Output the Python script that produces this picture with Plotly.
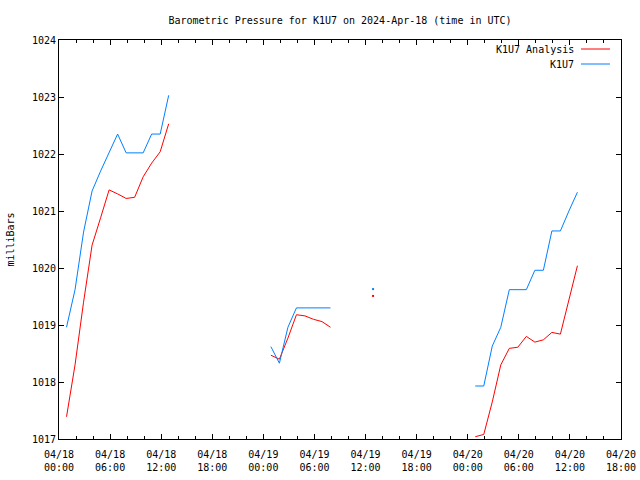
import plotly.graph_objects as go

# ---------------- data ----------------
seg1_times = ["2024-04-18 00:53", "2024-04-18 01:53", "2024-04-18 02:53", "2024-04-18 03:53",
              "2024-04-18 04:53", "2024-04-18 05:53", "2024-04-18 06:53", "2024-04-18 07:53",
              "2024-04-18 08:53", "2024-04-18 09:53", "2024-04-18 10:53", "2024-04-18 11:53",
              "2024-04-18 12:53"]
seg1_obs = [1018.96, 1019.62, 1020.63, 1021.35, 1021.70, 1022.02, 1022.35, 1022.02,
            1022.02, 1022.02, 1022.35, 1022.35, 1023.03]
seg1_ana = [1017.39, 1018.30, 1019.40, 1020.40, 1020.88, 1021.37, 1021.30, 1021.22,
            1021.24, 1021.60, 1021.84, 1022.04, 1022.53]

seg2_times = ["2024-04-19 00:53", "2024-04-19 01:53", "2024-04-19 02:53", "2024-04-19 03:53",
              "2024-04-19 04:53", "2024-04-19 05:53", "2024-04-19 06:53", "2024-04-19 07:53"]
seg2_obs = [1018.62, 1018.33, 1018.96, 1019.30, 1019.30, 1019.30, 1019.30, 1019.30]
seg2_ana = [1018.47, 1018.40, 1018.77, 1019.18, 1019.16, 1019.10, 1019.06, 1018.96]

single_time = ["2024-04-19 12:53"]
single_obs = [1019.63]
single_ana = [1019.51]

seg3_times = ["2024-04-20 00:53", "2024-04-20 01:53", "2024-04-20 02:53", "2024-04-20 03:53",
              "2024-04-20 04:53", "2024-04-20 05:53", "2024-04-20 06:53", "2024-04-20 07:53",
              "2024-04-20 08:53", "2024-04-20 09:53", "2024-04-20 10:53", "2024-04-20 11:53",
              "2024-04-20 12:53"]
seg3_obs = [1017.93, 1017.93, 1018.63, 1018.96, 1019.62, 1019.62, 1019.62, 1019.96,
            1019.96, 1020.65, 1020.65, 1021.00, 1021.33]
seg3_ana = [1017.04, 1017.08, 1017.65, 1018.30, 1018.59, 1018.61, 1018.80, 1018.70,
            1018.74, 1018.87, 1018.84, 1019.45, 1020.04]

series_names = ["K1U7 Analysis", "K1U7"]
RED = "#ff0000"
BLUE = "#0080ff"
FONT = "DejaVu Sans Mono"

x_range = ["2024-04-18 00:00", "2024-04-20 18:00"]
y_range = [1017, 1024]

# ---------------- build ----------------
def joined(*parts):
    out = []
    for i, p in enumerate(parts):
        if i:
            out.append(None)
        out.extend(p)
    return out

x_all = joined(seg1_times, seg2_times, seg3_times)
ana_all = joined(seg1_ana, seg2_ana, seg3_ana)
obs_all = joined(seg1_obs, seg2_obs, seg3_obs)

fig = go.Figure()
fig.add_trace(go.Scatter(x=x_all, y=ana_all, mode="lines", name=series_names[0],
                         line=dict(color=RED, width=1), connectgaps=False))
fig.add_trace(go.Scatter(x=x_all, y=obs_all, mode="lines", name=series_names[1],
                         line=dict(color=BLUE, width=1), connectgaps=False))
fig.add_trace(go.Scatter(x=single_time, y=single_ana, mode="markers", showlegend=False,
                         marker=dict(color=RED, size=2, symbol="square", line=dict(width=0))))
fig.add_trace(go.Scatter(x=single_time, y=single_obs, mode="markers", showlegend=False,
                         marker=dict(color=BLUE, size=2, symbol="square", line=dict(width=0))))

L, R, T, B = 59, 19, 40, 41
W, H = 640, 480
pw, ph = W - L - R, H - T - B

def px_x(p):
    return (p - L) / pw

def px_y(p):
    return (H - B - p) / ph

fig.update_layout(
    width=W, height=H,
    margin=dict(l=L, r=R, t=T, b=B, pad=0, autoexpand=False),
    paper_bgcolor="white", plot_bgcolor="white",
    showlegend=False,
    font=dict(family=FONT, size=10, color="black"),
    title=dict(text="Barometric Pressure for K1U7 on 2024-Apr-18 (time in UTC)",
               xref="paper", x=0.5, xanchor="center", y=1 - 20 / H, yanchor="middle",
               font=dict(family=FONT, size=10, color="black")),
    xaxis=dict(type="date", range=x_range, showgrid=False, zeroline=False,
               showline=True, linecolor="black", linewidth=1, mirror="ticks",
               ticks="inside", ticklen=5, tickcolor="black", tickwidth=1,
               dtick=6 * 3600 * 1000, tick0="2024-04-18 00:00",
               tickformat="%m/%d<br>%H:%M", automargin=False, ticklabelstandoff=6,
               minor=dict(dtick=2 * 3600 * 1000, ticks="inside", ticklen=3,
                          tickcolor="black", showgrid=False),
               tickfont=dict(family=FONT, size=10, color="black")),
    yaxis=dict(range=y_range, showgrid=False, zeroline=False,
               showline=True, linecolor="black", linewidth=1, mirror="ticks",
               ticks="inside", ticklen=5, tickcolor="black", tickwidth=1,
               dtick=1, tickformat="d", automargin=False,
               tickfont=dict(family=FONT, size=10, color="black"),
               title=dict(text="milliBars", standoff=15,
                          font=dict(family=FONT, size=10, color="black"))),
)

# gnuplot-style key (text right-aligned, sample line on the right)
key_rows = [(series_names[0], RED, 49), (series_names[1], BLUE, 64)]
for name, col, ypx in key_rows:
    fig.add_annotation(xref="paper", yref="paper", x=px_x(576), y=px_y(ypx),
                       xanchor="right", yanchor="middle", showarrow=False,
                       text=name, font=dict(family=FONT, size=10, color="black"))
    fig.add_shape(type="line", xref="paper", yref="paper",
                  x0=px_x(581), x1=px_x(610), y0=px_y(ypx), y1=px_y(ypx),
                  line=dict(color=col, width=1))

fig.write_html("out.html", config={"displayModeBar": False},
               post_script="document.body.style.margin='0';document.body.style.overflow='hidden';")
